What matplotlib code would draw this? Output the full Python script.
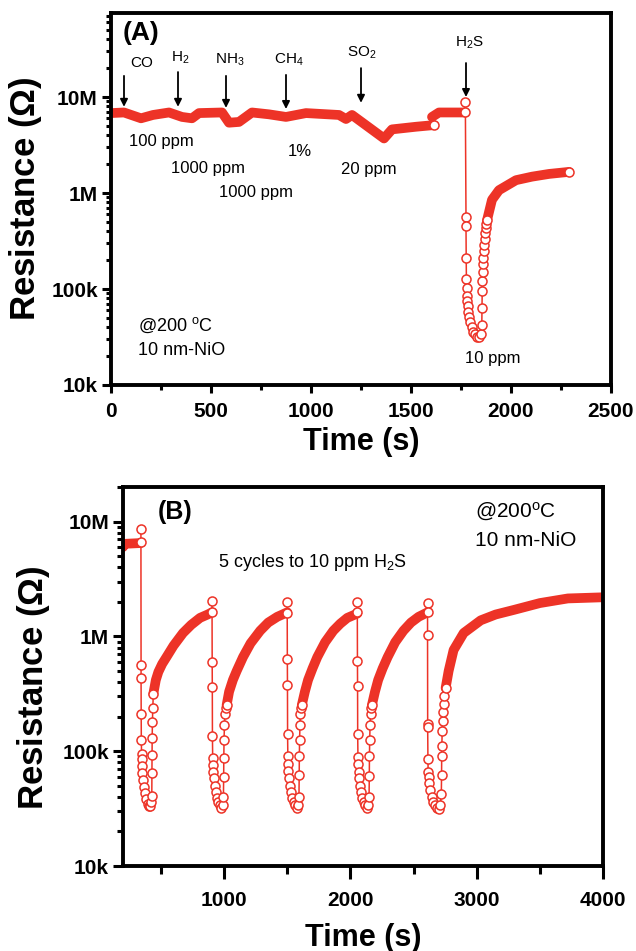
import matplotlib
matplotlib.use('Agg')
import matplotlib.pyplot as plt
from matplotlib.ticker import LogLocator, MultipleLocator, FuncFormatter, NullFormatter

plt.rcParams['font.family'] = ['Liberation Sans', 'DejaVu Sans']
plt.rcParams['mathtext.default'] = 'regular'

RED = '#ED3327'

# ---------------- panel A : selectivity ----------------
# baseline bands (dense points merge into a thick band)
a_base1_t = [0, 65, 150, 210, 290, 355, 405, 440, 555, 590, 640, 705, 790, 875,
             975, 1140, 1175, 1205, 1365, 1405, 1525, 1615]
a_base1_r = [6.8e6, 6.9e6, 6.0e6, 6.5e6, 6.9e6, 6.2e6, 6.0e6, 6.8e6, 6.9e6, 5.4e6,
             5.5e6, 6.9e6, 6.6e6, 6.2e6, 6.8e6, 6.5e6, 5.9e6, 6.5e6, 3.7e6, 4.6e6,
             4.9e6, 5.1e6]
a_base2_t = [1605, 1640, 1770]
a_base2_r = [6.2e6, 6.9e6, 6.9e6]
# H2S response, individual circles
a_h2s_t = [1770, 1772, 1775, 1775, 1776, 1777, 1778, 1779, 1781, 1783, 1786, 1790,
           1796, 1803, 1812, 1822, 1832, 1840, 1850, 1854, 1855, 1856, 1857, 1858,
           1860, 1862, 1864, 1866, 1868, 1871, 1874, 1877, 1880]
a_h2s_r = [8.9e6, 6.9e6, 5.6e5, 4.5e5, 2.1e5, 1.26e5, 1.02e5, 8.5e4, 7.5e4, 6.6e4,
           5.8e4, 5.1e4, 4.5e4, 4.0e4, 3.6e4, 3.4e4, 3.2e4, 3.15e4, 3.4e4, 4.2e4,
           6.3e4, 9.5e4, 1.2e5, 1.5e5, 1.8e5, 2.1e5, 2.5e5, 2.9e5, 3.3e5, 3.8e5,
           4.3e5, 4.8e5, 5.2e5]
a_rec_t = [1880, 1905, 1940, 2025, 2105, 2190, 2290]
a_rec_r = [5.2e5, 8.5e5, 1.07e6, 1.36e6, 1.48e6, 1.58e6, 1.66e6]

a_gases = ['CO', 'H$_2$', 'NH$_3$', 'CH$_4$', 'SO$_2$', 'H$_2$S']
a_gas_t = [65, 335, 575, 875, 1250, 1775]
a_conc = ['100 ppm', '1000 ppm', '1000 ppm', '1%', '20 ppm', '10 ppm']

# ---------------- panel B : 5 cycles ----------------
b_base_t = [200, 215, 340]
b_base_r = [6.0e6, 6.4e6, 6.5e6]

b_drop_t = [
    [342, 342, 343, 343, 344, 345, 347, 349, 351, 354, 358, 364, 372, 382, 394, 405,
     413, 422, 428, 429, 430, 431, 433, 436, 440],
    [905, 905, 906, 907, 908, 910, 912, 915, 919, 925, 933, 943, 955, 967, 978, 988,
     995, 997, 998, 1000, 1003, 1007, 1013, 1020],
    [1500, 1500, 1501, 1502, 1503, 1505, 1507, 1510, 1514, 1520, 1528, 1538, 1550,
     1562, 1574, 1585, 1593, 1595, 1596, 1598, 1601, 1605, 1610, 1615],
    [2055, 2055, 2056, 2057, 2058, 2060, 2062, 2065, 2069, 2075, 2083, 2093, 2105,
     2117, 2129, 2140, 2148, 2150, 2151, 2153, 2156, 2160, 2165, 2170],
    [2611, 2611, 2611, 2612, 2612, 2614, 2616, 2620, 2626, 2634, 2645, 2658, 2672,
     2686, 2698, 2712, 2720, 2722, 2723, 2724, 2727, 2730, 2734, 2738, 2745, 2754],
]
b_drop_r = [
    [8.7e6, 6.6e6, 5.6e5, 4.3e5, 2.1e5, 1.26e5, 9.5e4, 8.5e4, 7.4e4, 6.4e4, 5.6e4,
     4.9e4, 4.3e4, 3.8e4, 3.5e4, 3.35e4, 3.3e4, 3.6e4, 4.1e4, 6.5e4, 9.3e4, 1.3e5,
     1.8e5, 2.4e5, 3.16e5],
    [2.04e6, 1.62e6, 6.0e5, 3.6e5, 1.35e5, 8.7e4, 7.6e4, 6.6e4, 5.8e4, 5.0e4, 4.4e4,
     3.9e4, 3.6e4, 3.4e4, 3.2e4, 3.4e4, 4.0e4, 6.0e4, 8.8e4, 1.25e5, 1.7e5, 2.1e5,
     2.4e5, 2.51e5],
    [2.0e6, 1.6e6, 6.3e5, 3.8e5, 1.4e5, 9.0e4, 7.8e4, 6.7e4, 5.8e4, 5.0e4, 4.4e4,
     3.9e4, 3.6e4, 3.4e4, 3.2e4, 3.4e4, 4.0e4, 6.2e4, 9.0e4, 1.25e5, 1.7e5, 2.1e5,
     2.4e5, 2.51e5],
    [2.0e6, 1.62e6, 6.1e5, 3.7e5, 1.4e5, 8.9e4, 7.7e4, 6.6e4, 5.8e4, 5.0e4, 4.4e4,
     3.9e4, 3.6e4, 3.4e4, 3.2e4, 3.4e4, 4.0e4, 6.1e4, 9.0e4, 1.25e5, 1.7e5, 2.1e5,
     2.4e5, 2.51e5],
    [1.95e6, 1.62e6, 1.02e6, 1.73e5, 1.63e5, 8.5e4, 6.6e4, 6.0e4, 5.3e4, 4.6e4, 4.0e4,
     3.6e4, 3.4e4, 3.2e4, 3.16e4, 3.4e4, 4.2e4, 6.2e4, 9.1e4, 1.1e5, 1.5e5, 1.82e5,
     2.2e5, 2.57e5, 3.0e5, 3.55e5],
]
b_rec_t = [
    [440, 460, 480, 510, 550, 600, 675, 740, 810, 870, 905],
    [1020, 1040, 1070, 1100, 1150, 1210, 1286, 1350, 1421, 1500],
    [1615, 1640, 1665, 1700, 1738, 1800, 1865, 1920, 1976, 2055],
    [2170, 2195, 2220, 2255, 2295, 2355, 2420, 2480, 2540, 2611],
    [2754, 2778, 2817, 2897, 3032, 3150, 3294, 3500, 3722, 4000],
]
b_rec_r = [
    [3.16e5, 4.17e5, 4.9e5, 5.75e5, 6.76e5, 8.3e5, 1.07e6, 1.26e6, 1.45e6, 1.55e6, 1.62e6],
    [2.51e5, 3.3e5, 4.17e5, 5.0e5, 6.6e5, 8.7e5, 1.12e6, 1.32e6, 1.48e6, 1.62e6],
    [2.51e5, 3.3e5, 4.17e5, 5.25e5, 6.6e5, 8.9e5, 1.12e6, 1.29e6, 1.45e6, 1.58e6],
    [2.51e5, 3.3e5, 4.17e5, 5.25e5, 6.6e5, 8.9e5, 1.12e6, 1.32e6, 1.48e6, 1.62e6],
    [3.55e5, 5.0e5, 7.6e5, 1.07e6, 1.38e6, 1.55e6, 1.70e6, 1.95e6, 2.14e6, 2.19e6],
]

ylabels = {1e4: '10k', 1e5: '100k', 1e6: '1M', 1e7: '10M'}


def band(ax, t, r, end_marker=False):
    ax.plot(t, r, '-', color=RED, lw=7, solid_capstyle='round',
            solid_joinstyle='round', zorder=2)
    if end_marker:
        ax.plot(t[-1], r[-1], 'o', ms=6.5, mfc='white', mec=RED, mew=1.1, zorder=4)


def circles(ax, t, r):
    ax.plot(t, r, '-o', color=RED, lw=1.1, ms=6.5, mfc='white', mec=RED,
            mew=1.1, zorder=3)


def style(ax, xmaj, xmin, xlen, ylen, xpad):
    ax.set_yscale('log')
    for s in ax.spines.values():
        s.set_linewidth(2.8)
    ax.xaxis.set_major_locator(MultipleLocator(xmaj))
    ax.xaxis.set_minor_locator(MultipleLocator(xmin))
    ax.yaxis.set_major_locator(LogLocator(base=10))
    ax.yaxis.set_minor_locator(LogLocator(base=10, subs=range(2, 10)))
    ax.yaxis.set_minor_formatter(NullFormatter())
    ax.yaxis.set_major_formatter(FuncFormatter(lambda v, p: ylabels.get(v, '')))
    ax.tick_params(which='both', direction='out', top=False, right=False, width=2.2)
    ax.tick_params(axis='x', which='major', length=xlen[0], pad=xpad, labelsize=15)
    ax.tick_params(axis='x', which='minor', length=xlen[1])
    ax.tick_params(axis='y', which='major', length=ylen[0], pad=3, labelsize=15)
    ax.tick_params(axis='y', which='minor', length=ylen[1])
    for lab in ax.get_xticklabels() + ax.get_yticklabels():
        lab.set_fontweight('bold')
    ax.set_xlabel('Time (s)', fontsize=22, fontweight='bold')
    ax.set_ylabel('Resistance ($\\Omega$)', fontsize=25, fontweight='bold')


fig = plt.figure(figsize=(6.36, 9.51), dpi=100)

# ---- A ----
axA = fig.add_axes([111 / 636, 1 - 385 / 951, 500 / 636, 372 / 951])
band(axA, a_base1_t, a_base1_r, end_marker=True)
band(axA, a_base2_t, a_base2_r)
circles(axA, a_h2s_t, a_h2s_r)
band(axA, a_rec_t, a_rec_r, end_marker=True)
axA.set_xlim(0, 2500)
axA.set_ylim(1e4, 7.5e7)
style(axA, 500, 250, (6, 3.5), (6.5, 3.5), 6)
axA.xaxis.set_label_coords(0.5, -0.113)
axA.yaxis.set_label_coords(-0.134, 0.5)

arrow_tail = [1.66e7, 1.82e7, 1.66e7, 1.7e7, 2.0e7, 2.26e7]
arrow_tip = [7.9e6, 7.9e6, 7.7e6, 7.5e6, 8.7e6, 1.0e7]
gas_pos = [(152, 2.26e7), (347, 2.55e7), (595, 2.43e7), (887, 2.43e7),
           (1252, 2.9e7), (1792, 3.65e7)]
for i, g in enumerate(a_gases):
    axA.annotate('', xy=(a_gas_t[i], arrow_tip[i]), xytext=(a_gas_t[i], arrow_tail[i]),
                 arrowprops=dict(arrowstyle='-|>', color='k', lw=1.3, mutation_scale=11,
                                 shrinkA=0, shrinkB=0))
    axA.text(gas_pos[i][0], gas_pos[i][1], g, fontsize=11, ha='center', va='center')

conc_pos = [(250, 3.4e6), (485, 1.82e6), (727, 1.02e6), (945, 2.7e6),
            (1290, 1.74e6), (1910, 1.9e4)]
for i, c in enumerate(a_conc):
    axA.text(conc_pos[i][0], conc_pos[i][1], c, fontsize=12, ha='center', va='center')

axA.text(0.024, 0.946, '(A)', transform=axA.transAxes, fontsize=19,
         fontweight='bold', va='center')
axA.text(0.054, 0.161, '@200 $^{o}$C', transform=axA.transAxes, fontsize=13,
         va='center')
axA.text(0.054, 0.094, '10 nm-NiO', transform=axA.transAxes, fontsize=13,
         va='center')

# ---- B ----
axB = fig.add_axes([123 / 636, 1 - 866 / 951, 480 / 636, 379 / 951])
band(axB, b_base_t, b_base_r)
for i in range(5):
    circles(axB, b_drop_t[i], b_drop_r[i])
    band(axB, b_rec_t[i], b_rec_r[i])
axB.set_xlim(200, 4000)
axB.set_ylim(1e4, 2.0e7)
style(axB, 1000, 500, (9, 6), (7, 4), 9)
axB.xaxis.set_label_coords(0.5, -0.150)
axB.yaxis.set_label_coords(-0.148, 0.47)

axB.text(0.073, 0.934, '(B)', transform=axB.transAxes, fontsize=18,
         fontweight='bold', va='center')
axB.text(0.198, 0.80, '5 cycles to 10 ppm H$_2$S', transform=axB.transAxes,
         fontsize=13, va='center')
axB.text(0.733, 0.934, '@200$^{o}$C', transform=axB.transAxes, fontsize=15,
         va='center')
axB.text(0.733, 0.860, '10 nm-NiO', transform=axB.transAxes, fontsize=15,
         va='center')

fig.savefig('out.png', dpi=100)
